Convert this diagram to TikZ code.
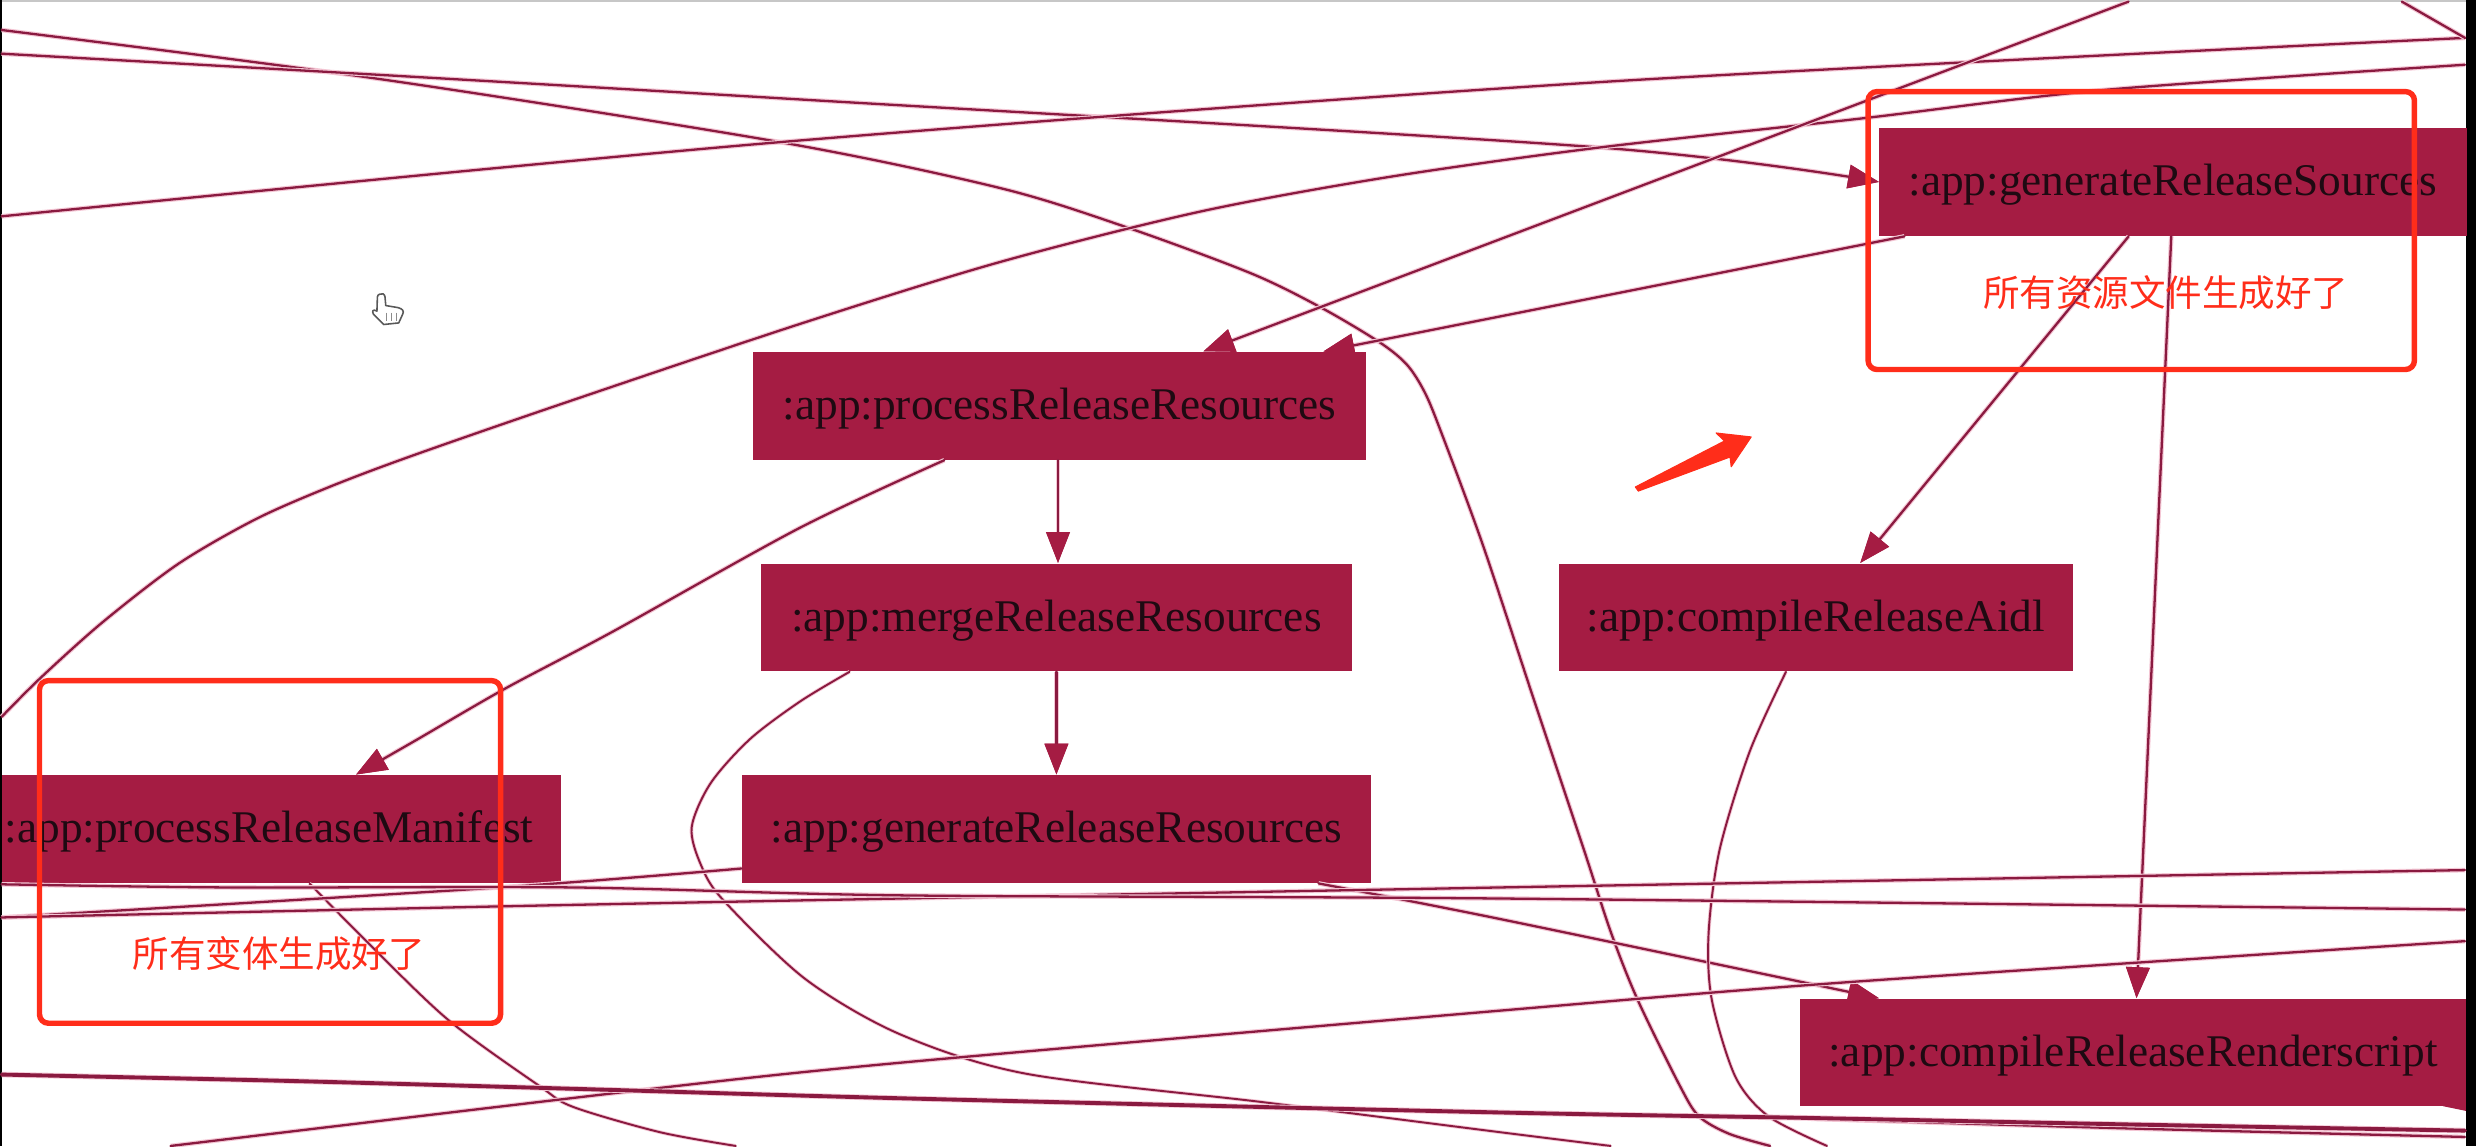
\documentclass[tikz,border=0pt]{standalone}
\usepackage{fontspec}
\setmainfont{Liberation Serif}
\newfontfamily\cjkfont{Noto Sans CJK SC}
\usetikzlibrary{arrows.meta,calc}
\definecolor{crim}{HTML}{A51C43}
\definecolor{edgecol}{HTML}{8A1A40}
\definecolor{halo}{HTML}{F4C6D4}
\definecolor{redmark}{HTML}{FF2D1A}
\definecolor{inkcol}{HTML}{1E0A12}
\newdimen\su \su=0.015791cm
\newcommand{\lowered}[1]{\raisebox{0pt}[0.36cm][0.084cm]{#1}}
\tikzset{
  x=0.015791cm, y=-0.015791cm,
  nbox/.style={rectangle, fill=crim, draw=none, inner sep=0pt, text=inkcol,
    font=\fontsize{12.9}{16}\selectfont, minimum height=68*\su},
  wire/.style={draw=edgecol, line width=0.65pt, line cap=round, line join=round,
    preaction={draw=halo, line width=1.3pt}},
  thin wire/.style={draw=edgecol, line width=0.55pt, line cap=round, line join=round,
    preaction={draw=halo, line width=1.05pt}},
  heavy wire/.style={draw=edgecol, line width=1.1pt, line cap=round, line join=round,
    preaction={draw=halo, line width=1.6pt}},
  arrowed/.style={-{Triangle[length=0.31cm,width=0.23cm,color=crim]}},
  markbox/.style={rectangle, draw=redmark, line width=1.55pt, rounded corners=0.09cm, inner sep=0pt},
  marktext/.style={text=redmark, inner sep=0pt, font=\cjkfont\fontsize{10.4}{12}\selectfont},
}
\begin{document}
\begin{tikzpicture}
\useasboundingbox (0,0) rectangle (1568,725.75);
\fill[white] (0,0) rectangle (1568,725.75);
% window edges
\fill[black!22] (0,0) rectangle (1562,1.2);
\fill[black] (0,0) rectangle (1,725.75);
\fill[black] (1561.6,0) rectangle (1568,725.75);

% task boxes
\node[nbox, minimum width=372*\su] (gen) at (1376,115.25) {\lowered{:app:generateReleaseSources}};
\node[nbox, minimum width=388*\su] (proc) at (671,257) {\lowered{:app:processReleaseResources}};
\node[nbox, minimum width=374*\su] (merge) at (669,391) {\lowered{:app:mergeReleaseResources}};
\node[nbox, minimum width=326*\su] (aidl) at (1150,391) {\lowered{:app:compileReleaseAidl}};
\node[nbox, minimum width=398*\su] (genres) at (669,525) {\lowered{:app:generateReleaseResources}};
\node[nbox, minimum width=354.5*\su] (mani) at (178.25,525) {\lowered{:app:processReleaseManifest}\rule{0.25cm}{0pt}};
\node[nbox, minimum width=421.5*\su] (rs) at (1350.75,666.6) {\lowered{:app:compileReleaseRenderscript}};
\fill[crim] (1547,700.5) -- (1561.6,700.5) -- (1561.6,703.5) -- cycle;

% free ends at the picture's edges
\coordinate (l1) at (1,19);
\coordinate (l2) at (1,34);
\coordinate (l3) at (1,137);
\coordinate (l4) at (1,454);
\coordinate (l5) at (1,581);
\coordinate (l6) at (1,680.5);
\coordinate (r1) at (1561,24);
\coordinate (r2) at (1561,41);
\coordinate (r3) at (1561,551);
\coordinate (r4) at (1561,576);
\coordinate (r5) at (1561,596);
\coordinate (r6) at (1561,716);
\coordinate (r7) at (1561,720);
\coordinate (j1) at (1147,708.5);
\coordinate (t1) at (1348,1);
\coordinate (t2) at (1521,1);
\coordinate (b1) at (1121,725.7);
\coordinate (b2) at (1157,725.7);
\coordinate (b3) at (1020,725.7);
\coordinate (b4) at (466,725.7);
\coordinate (b5) at (108,725.7);

% long lines
\draw[wire] plot[smooth] coordinates {(l1) (240,50) (494,90) (633,119) (712.5,143.6) (792,173) (837,195) (874,217) (891,231) (902,248) (912,272) (939,345) (971,442) (1003,538) (1020,590) (1037,633) (1064,688) (1076,707) (1095,718) (b1)};
\draw[wire,arrowed] plot[smooth] coordinates {(l2) (242,47.5) (507,63) (1013,93.4) (1190,0 |- gen.west)};
\draw[wire] plot[smooth] coordinates {(l3) (494,90) (1013,52) (r1)};
\draw[wire] (t2) -- (r1);
\draw[wire] plot[smooth] coordinates {(l4) (26,429) (65,394) (113,357) (161.5,329) (207,309) (258.5,289.5) (355,256) (507,205) (633,166) (760,134) (880,112) (1013,93.4) (1179,75) (1332,57) (r2)};
\draw[wire,arrowed] (t1) -- (762,0 |- proc.north);

% edges among boxes
\draw[wire,arrowed] (1206,0 |- gen.south) -- (838,0 |- proc.north);
\draw[wire,arrowed] (1348,0 |- gen.south) -- (1178,0 |- aidl.north);
\draw[wire,arrowed] (1375,0 |- gen.south) -- (1353,0 |- rs.north);
\draw[wire,arrowed] (670,0 |- proc.south) -- (670,0 |- merge.north);
\draw[wire,arrowed] (669,0 |- merge.south) -- (669,0 |- genres.north);
\draw[wire,arrowed] plot[smooth] coordinates {(598,0 |- proc.south) (507,334) (388,400) (320,436) (263,469) (225.4,0 |- mani.north)};
\draw[wire,arrowed] plot[smooth] coordinates {(835,0 |- genres.south) (950,582) (1190,0 |- rs.north)};

% curves
\draw[thin wire] plot[smooth] coordinates {(538,0 |- merge.south) (507,444) (475,468) (450,496) (438,524) (444,548) (458,570) (510,620) (570,655) (650,680) (800,698) (950,717) (b3)};
\draw[thin wire] plot[smooth] coordinates {(1131,0 |- aidl.south) (1108,476) (1089,538) (1082,591) (1084,633) (1099,682) (1120,707) (b2)};
\draw[thin wire] plot[smooth] coordinates {(196,0 |- mani.south) (233,597) (284,646) (342,688) (363,701) (418,717) (b4)};

% near-horizontal lines
\draw[wire] plot[smooth] coordinates {(genres.west |- 0,550) (316,562) (l5)};
\draw[wire] plot[smooth] coordinates {(l5) (316,574) (570,569) (950,562) (r3)};
\draw[wire] plot[smooth] coordinates {(1,560) (145,562) (363,562) (570,567) (950,569) (r4)};
\draw[wire] plot[smooth] coordinates {(r5) (1170,622) (950,640) (570,673) (400,691) (b5)};
\draw[wire] plot[smooth] coordinates {(j1) (1344,714.5) (r7)};
\draw[heavy wire] plot[smooth] coordinates {(l6) (182,684.5) (363,689.5) (570,695.5) (950,704.5) (1147,708) (1344,712) (r6)};

% red annotations
\node[markbox, minimum width=346*\su, minimum height=176*\su] (noteA) at (1356,146) {};
\node[markbox, minimum width=292*\su, minimum height=217*\su] (noteB) at (171,539.5) {};
\node[marktext] (textA) at (1371.5,185.6) {所有资源文件生成好了};
\node[marktext] (textB) at (176.5,603.6) {所有变体生成好了};
\fill[redmark, draw=redmark, line width=0.3pt, line join=round] (1035.6,308.4) -- (1092,279.3) -- (1086.8,274.2) -- (1109,276.7) -- (1096.3,295.6) -- (1095.6,289.4) -- (1037.5,311) -- cycle;

% hand cursor
\filldraw[fill=white, draw=black!65, line width=0.45pt, line join=round]
  (240.5,186.3) .. controls (242,185.5) and (243.5,186) .. (243.8,188) -- (244.3,193.5)
  -- (252,194.8) .. controls (255,195.5) and (256,197) .. (255,199) -- (252.5,204.5)
  -- (243,205.5) -- (236.5,199) .. controls (235.5,197) and (236,195.5) .. (238.7,197)
  -- (239,188) .. controls (239,187) and (239.7,186.6) .. (240.5,186.3) -- cycle;
\draw[black!45, line width=0.35pt] (245,198) -- (245,203) (248,198) -- (248,203) (251,198) -- (251,203);
\end{tikzpicture}
\end{document}
